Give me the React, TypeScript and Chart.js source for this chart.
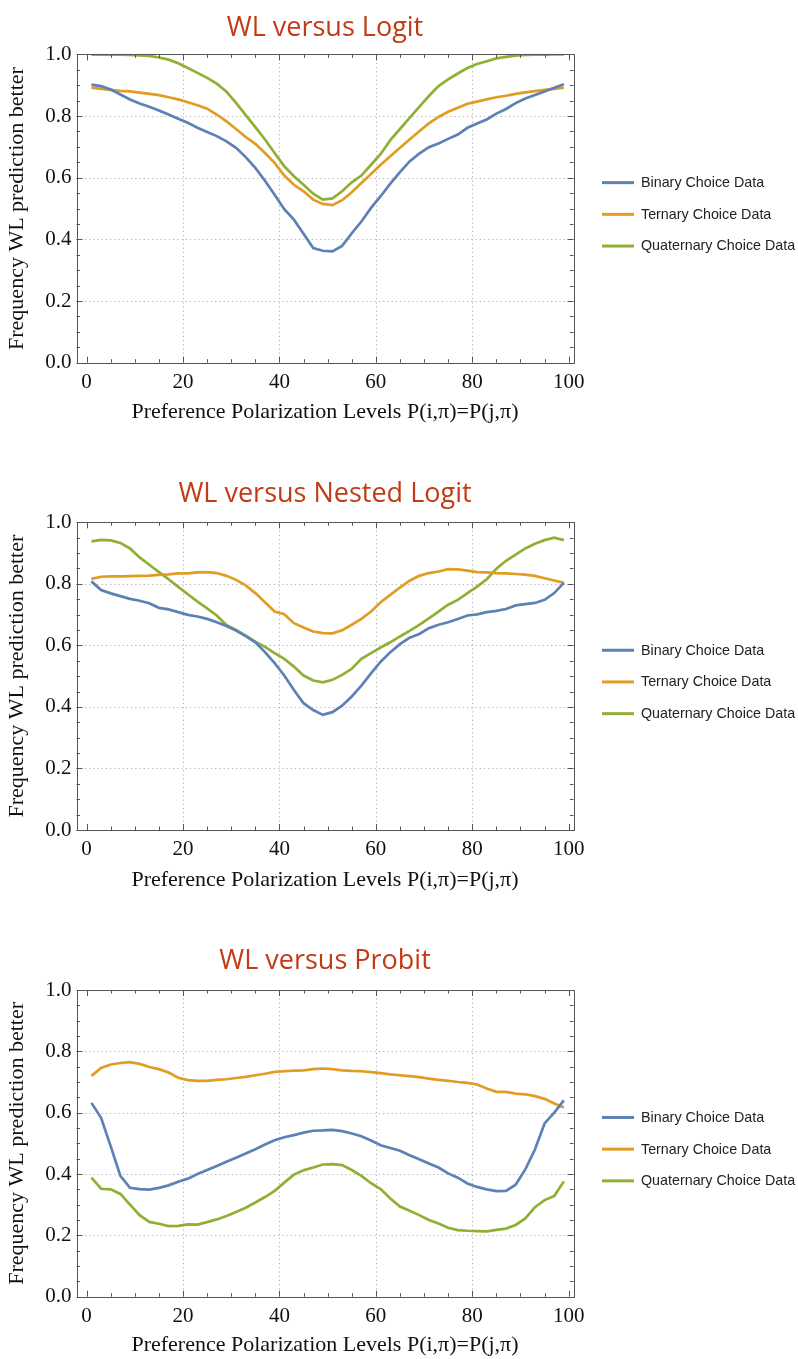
import React, { useEffect, useRef } from "react";
import { Chart, registerables } from "chart.js";

Chart.register(...registerables);

// ---------- DATA ----------
const polarizationLevels = [
  1, 3, 5, 7, 9, 11, 13, 15, 17, 19, 21, 23, 25, 27, 29, 31, 33, 35, 37, 39,
  41, 43, 45, 47, 49, 51, 53, 55, 57, 59, 61, 63, 65, 67, 69, 71, 73, 75, 77, 79,
  81, 83, 85, 87, 89, 91, 93, 95, 97, 99,
];

const logitBinary = [
  0.902, 0.897, 0.886, 0.870, 0.854, 0.841, 0.830, 0.818, 0.805, 0.791,
  0.778, 0.762, 0.748, 0.735, 0.718, 0.697, 0.667, 0.632, 0.590, 0.545,
  0.498, 0.464, 0.418, 0.372, 0.363, 0.361, 0.379, 0.420, 0.458, 0.502,
  0.540, 0.581, 0.618, 0.653, 0.678, 0.699, 0.711, 0.726, 0.740, 0.762,
  0.776, 0.789, 0.808, 0.823, 0.842, 0.857, 0.868, 0.880, 0.892, 0.903,
];
const logitTernary = [
  0.892, 0.888, 0.885, 0.882, 0.880, 0.876, 0.872, 0.868, 0.861, 0.854,
  0.845, 0.835, 0.824, 0.805, 0.783, 0.758, 0.732, 0.710, 0.680, 0.648,
  0.607, 0.577, 0.556, 0.529, 0.515, 0.511, 0.527, 0.553, 0.583, 0.612,
  0.642, 0.670, 0.697, 0.724, 0.751, 0.776, 0.797, 0.814, 0.827, 0.840,
  0.847, 0.854, 0.861, 0.866, 0.872, 0.877, 0.881, 0.885, 0.888, 0.892,
];
const logitQuaternary = [
  0.999, 0.999, 0.999, 0.999, 0.998, 0.997, 0.995, 0.990, 0.983, 0.971,
  0.956, 0.940, 0.924, 0.905, 0.879, 0.843, 0.803, 0.764, 0.724, 0.680,
  0.637, 0.605, 0.577, 0.548, 0.529, 0.533, 0.556, 0.585, 0.607, 0.642,
  0.677, 0.722, 0.758, 0.794, 0.830, 0.865, 0.897, 0.919, 0.938, 0.956,
  0.969, 0.978, 0.987, 0.992, 0.996, 0.998, 0.999, 0.999, 1.0, 1.0,
];

const nestedBinary = [
  0.808, 0.780, 0.769, 0.760, 0.751, 0.745, 0.737, 0.722, 0.717, 0.708,
  0.699, 0.694, 0.686, 0.675, 0.663, 0.648, 0.630, 0.610, 0.578, 0.542,
  0.502, 0.455, 0.412, 0.390, 0.374, 0.383, 0.404, 0.434, 0.469, 0.509,
  0.547, 0.578, 0.604, 0.625, 0.637, 0.656, 0.667, 0.675, 0.686, 0.697,
  0.701, 0.708, 0.712, 0.718, 0.730, 0.734, 0.738, 0.748, 0.770, 0.803,
];
const nestedTernary = [
  0.816, 0.823, 0.824, 0.824, 0.825, 0.826, 0.827, 0.829, 0.831, 0.834,
  0.834, 0.837, 0.838, 0.835, 0.826, 0.813, 0.795, 0.770, 0.740, 0.710,
  0.701, 0.672, 0.658, 0.645, 0.640, 0.639, 0.649, 0.667, 0.686, 0.710,
  0.740, 0.764, 0.788, 0.810, 0.826, 0.835, 0.840, 0.848, 0.847, 0.843,
  0.838, 0.837, 0.835, 0.834, 0.832, 0.830, 0.826, 0.818, 0.811, 0.803,
];
const nestedQuaternary = [
  0.938, 0.943, 0.941, 0.933, 0.915, 0.886, 0.862, 0.838, 0.815, 0.790,
  0.766, 0.742, 0.720, 0.697, 0.666, 0.650, 0.632, 0.612, 0.595, 0.575,
  0.556, 0.531, 0.502, 0.486, 0.480, 0.488, 0.504, 0.524, 0.556, 0.575,
  0.593, 0.610, 0.629, 0.647, 0.667, 0.688, 0.710, 0.732, 0.748, 0.770,
  0.791, 0.815, 0.849, 0.875, 0.895, 0.915, 0.930, 0.942, 0.950, 0.942,
];

const probitBinary = [
  0.632, 0.583, 0.490, 0.394, 0.355, 0.351, 0.349, 0.355, 0.363, 0.375,
  0.385, 0.400, 0.413, 0.426, 0.440, 0.453, 0.467, 0.481, 0.496, 0.510,
  0.520, 0.527, 0.535, 0.541, 0.542, 0.544, 0.540, 0.532, 0.523, 0.509,
  0.494, 0.485, 0.476, 0.461, 0.448, 0.434, 0.421, 0.402, 0.388, 0.369,
  0.358, 0.350, 0.344, 0.345, 0.365, 0.415, 0.480, 0.565, 0.600, 0.640,
];
const probitTernary = [
  0.720, 0.746, 0.757, 0.762, 0.765, 0.759, 0.749, 0.742, 0.731, 0.714,
  0.706, 0.704, 0.704, 0.707, 0.709, 0.713, 0.717, 0.722, 0.727, 0.733,
  0.735, 0.737, 0.738, 0.742, 0.744, 0.742, 0.738, 0.736, 0.735, 0.732,
  0.729, 0.725, 0.722, 0.719, 0.716, 0.711, 0.707, 0.704, 0.700, 0.697,
  0.692, 0.679, 0.668, 0.668, 0.662, 0.660, 0.654, 0.645, 0.630, 0.617,
];
const probitQuaternary = [
  0.388, 0.352, 0.350, 0.335, 0.300, 0.266, 0.244, 0.238, 0.230, 0.231,
  0.236, 0.235, 0.243, 0.252, 0.263, 0.276, 0.290, 0.307, 0.325, 0.345,
  0.372, 0.398, 0.412, 0.421, 0.431, 0.432, 0.429, 0.413, 0.394, 0.370,
  0.351, 0.320, 0.294, 0.280, 0.266, 0.250, 0.239, 0.225, 0.217, 0.215,
  0.214, 0.213, 0.218, 0.222, 0.234, 0.255, 0.292, 0.315, 0.328, 0.376,
];

const chartTitles = ["WL versus Logit", "WL versus Nested Logit", "WL versus Probit"];
const seriesLabels = ["Binary Choice Data", "Ternary Choice Data", "Quaternary Choice Data"];
const seriesColors = ["#5E81B5", "#E19C24", "#8FB032"];
const xAxisTitle = "Preference Polarization Levels P(i,\u03C0)=P(j,\u03C0)";
const yAxisTitle = "Frequency WL prediction better";
const xTickValues = [0, 20, 40, 60, 80, 100];
const yTickValues = [0, 0.2, 0.4, 0.6, 0.8, 1.0];
const xGridValues = [20, 40, 60, 80];
const yGridValues = [0.2, 0.4, 0.6, 0.8];

const chartSeries = [
  [logitBinary, logitTernary, logitQuaternary],
  [nestedBinary, nestedTernary, nestedQuaternary],
  [probitBinary, probitTernary, probitQuaternary],
];

// ---------- LAYOUT ----------
const W = 798;
const layouts = [
  { top: 0, height: 440, titleY: 28, plotTop: 54.4, plotBottom: 362.7, xTitleY: 412 },
  { top: 460, height: 440, titleY: 34, plotTop: 62.3, plotBottom: 370, xTitleY: 420 },
  { top: 920, height: 439, titleY: 41, plotTop: 70, plotBottom: 376.7, xTitleY: 425 },
];
const PLOT_LEFT = 76.5;
const PLOT_RIGHT = 573.5;
const SERIF = "'Liberation Serif', 'Times New Roman', serif";
const TITLE_SIZE = 27;
const AXIS_TITLE_SIZE = 22;

const framePlugin = {
  id: "mmaFrame",
  beforeDatasetsDraw(chart: any) {
    const { ctx, chartArea: a, scales } = chart;
    const x = scales.x, y = scales.y;
    ctx.save();
    ctx.strokeStyle = "#b0b0b0";
    ctx.lineWidth = 1;
    ctx.setLineDash([1.2, 3]);
    for (const v of xGridValues) {
      const px = Math.round(x.getPixelForValue(v)) + 0.5;
      ctx.beginPath(); ctx.moveTo(px, a.top); ctx.lineTo(px, a.bottom); ctx.stroke();
    }
    for (const v of yGridValues) {
      const py = Math.round(y.getPixelForValue(v)) + 0.5;
      ctx.beginPath(); ctx.moveTo(a.left, py); ctx.lineTo(a.right, py); ctx.stroke();
    }
    ctx.restore();
  },
  afterDatasetsDraw(chart: any) {
    const { ctx, chartArea: a, scales } = chart;
    const x = scales.x, y = scales.y;
    ctx.save();
    ctx.strokeStyle = "#555";
    ctx.lineWidth = 1;
    ctx.setLineDash([]);
    ctx.strokeRect(Math.round(a.left) + 0.5, Math.round(a.top) + 0.5,
      Math.round(a.right) - Math.round(a.left), Math.round(a.bottom) - Math.round(a.top));
    ctx.beginPath();
    for (let i = 0; i <= 20; i++) {
      const v = i * 5;
      const len = i % 4 === 0 ? 6 : 3.5;
      const px = Math.round(x.getPixelForValue(v)) + 0.5;
      ctx.moveTo(px, a.bottom); ctx.lineTo(px, a.bottom - len);
      ctx.moveTo(px, a.top); ctx.lineTo(px, a.top + len);
    }
    for (let i = 0; i <= 20; i++) {
      const v = i * 0.05;
      const len = i % 4 === 0 ? 6 : 3.5;
      const py = Math.round(y.getPixelForValue(v)) + 0.5;
      ctx.moveTo(a.left, py); ctx.lineTo(a.left + len, py);
      ctx.moveTo(a.right, py); ctx.lineTo(a.right - len, py);
    }
    ctx.stroke();
    ctx.restore();
  },
  afterDraw(chart: any) {
    const { ctx, chartArea: a } = chart;
    const cy = (a.top + a.bottom) / 2 + 5.8;
    const ds = chart.data.datasets;
    ctx.save();
    ctx.font = "14.3px 'Liberation Sans', Arial, sans-serif";
    ctx.textBaseline = "middle";
    ctx.textAlign = "left";
    ds.forEach((d: any, i: number) => {
      const yy = cy + (i - 1) * 31.7;
      ctx.strokeStyle = d.borderColor;
      ctx.lineWidth = 3;
      ctx.beginPath(); ctx.moveTo(602, yy); ctx.lineTo(634, yy); ctx.stroke();
      ctx.fillStyle = "#222";
      ctx.fillText(d.label, 641, yy + 0.5);
    });
    ctx.restore();
  },
};

function MmaChart({ index }: { index: number }) {
  const ref = useRef<HTMLCanvasElement>(null);
  const L = layouts[index];
  useEffect(() => {
    const titleLH = TITLE_SIZE * 1.2;
    const axisLH = AXIS_TITLE_SIZE * 1.2;
    const chart = new Chart(ref.current as HTMLCanvasElement, {
      type: "line",
      data: {
        datasets: chartSeries[index].map((vals, s) => ({
          label: seriesLabels[s],
          data: polarizationLevels.map((lv, k) => ({ x: lv, y: vals[k] })),
          borderColor: seriesColors[s],
          backgroundColor: seriesColors[s],
          borderWidth: 2.7,
          pointRadius: 0,
          tension: 0,
          fill: false,
        })),
      },
      options: {
        responsive: false,
        animation: false,
        devicePixelRatio: 1,
        layout: { padding: { left: 0, top: 0, bottom: 0, right: W - PLOT_RIGHT } },
        plugins: {
          legend: { display: false },
          tooltip: { enabled: false },
          title: {
            display: true,
            fullSize: false,
            text: chartTitles[index],
            color: "#C23B17",
            font: { family: "'Open Sans', sans-serif", size: TITLE_SIZE, weight: "normal", lineHeight: 1.2 },
            padding: { top: L.titleY - titleLH / 2, bottom: L.plotTop - L.titleY - titleLH / 2 },
          },
        },
        scales: {
          x: {
            type: "linear",
            min: -2.1,
            max: 101,
            grid: { display: false, drawTicks: false },
            border: { display: false },
            afterBuildTicks: (s: any) => { s.ticks = xTickValues.map((v) => ({ value: v })); },
            afterFit: (s: any) => { s.height = L.height - L.plotBottom; },
            ticks: {
              autoSkip: false,
              maxRotation: 0,
              padding: 7,
              color: "#111",
              font: { family: SERIF, size: 21 },
              callback: (v: any) => String(v),
            },
            title: {
              display: true,
              text: xAxisTitle,
              color: "#111",
              font: { family: SERIF, size: AXIS_TITLE_SIZE, lineHeight: 1.2 },
              padding: { top: 0, bottom: L.height - L.xTitleY - axisLH / 2 },
            },
          },
          y: {
            type: "linear",
            min: 0,
            max: 1,
            grid: { display: false, drawTicks: false },
            border: { display: false },
            afterBuildTicks: (s: any) => { s.ticks = yTickValues.map((v) => ({ value: v })); },
            afterFit: (s: any) => { s.width = PLOT_LEFT; },
            ticks: {
              padding: 5,
              color: "#111",
              font: { family: SERIF, size: 21 },
              callback: (v: any) => Number(v).toFixed(1),
            },
            title: {
              display: true,
              text: yAxisTitle,
              color: "#111",
              font: { family: SERIF, size: AXIS_TITLE_SIZE, lineHeight: 1.2 },
              padding: { top: 17 - axisLH / 2, bottom: 0 },
            },
          },
        },
      },
      plugins: [framePlugin],
    } as any);
    return () => chart.destroy();
  }, [index]);
  return (
    <div style={{ position: "absolute", left: 0, top: L.top, width: W, height: L.height }}>
      <canvas ref={ref} width={W} height={L.height} style={{ width: W, height: L.height, display: "block" }} />
    </div>
  );
}

export default function App() {
  return (
    <div style={{ position: "absolute", left: 0, top: 0, width: W, height: 1359, background: "#fff" }}>
      <MmaChart index={0} />
      <MmaChart index={1} />
      <MmaChart index={2} />
    </div>
  );
}
